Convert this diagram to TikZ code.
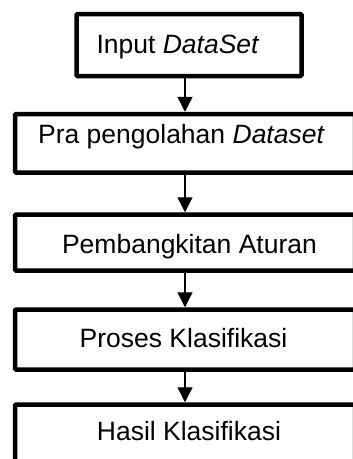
\documentclass[tikz,border=0pt]{standalone}
\usepackage{fontspec}
\setmainfont{Liberation Sans}
\usetikzlibrary{arrows.meta}
\begin{document}
\begin{tikzpicture}[x=1pt,y=-1pt,
  box/.style={draw=black,line width=4.5pt,rounded corners=1pt,inner sep=0pt,fill=none},
  lbl/.style={anchor=base,inner sep=0pt,font=\fontsize{26.5}{30}\selectfont},
  arr/.style={line width=1.3pt,-{Triangle[width=15pt,length=15pt]},shorten >=0pt}]
\useasboundingbox (0,0) rectangle (353,459);
\node[box,minimum width=225pt,minimum height=62pt] (b1) at (189,45) {};
\node[box,minimum width=340pt,minimum height=58.5pt] (b2) at (185,143.25) {};
\node[box,minimum width=340pt,minimum height=56pt] (b3) at (185,242.5) {};
\node[box,minimum width=340pt,minimum height=60pt] (b4) at (185,339.5) {};
\node[box,minimum width=340pt,minimum height=60pt] (b5) at (185,434.5) {};
\node[lbl] (t1) at (178,53) {Input \textit{DataSet}};
\node[lbl] (t2) at (181.5,143) {Pra pengolahan \textit{Dataset}};
\node[lbl] (t3) at (189.5,253) {Pembangkitan Aturan};
\node[lbl] (t4) at (183.5,347) {Proses Klasifikasi};
\node[lbl] (t5) at (189,440) {Hasil Klasifikasi};
\draw[arr] (b1.south -| b2.north) -- (b2.north);
\draw[arr] (b2.south) -- (b3.north);
\draw[arr] (b3.south) -- (b4.north);
\draw[arr] (b4.south) -- (b5.north);
\end{tikzpicture}
\end{document}
